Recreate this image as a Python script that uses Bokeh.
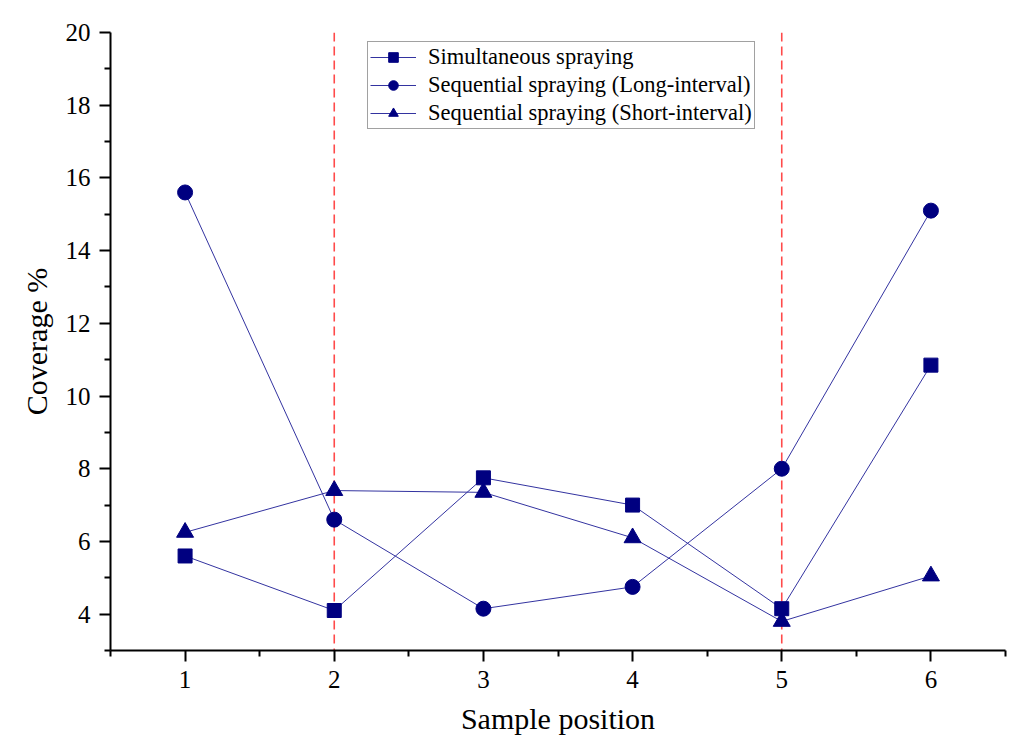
from bokeh.plotting import figure
from bokeh.models import Span, Legend, LegendItem, Range1d, FixedTicker
from bokeh.embed import file_html
from bokeh.resources import INLINE

positions = [1, 2, 3, 4, 5, 6]
simultaneous = [5.6, 4.1, 7.75, 7.0, 4.15, 10.85]
long_interval = [15.6, 6.6, 4.15, 4.75, 8.0, 15.1]
short_interval = [6.25, 7.4, 7.35, 6.1, 3.8, 5.05]
series_names = ["Simultaneous spraying",
                "Sequential spraying (Long-interval)",
                "Sequential spraying (Short-interval)"]
divider_positions = [2, 5]
x_ticks = [1, 2, 3, 4, 5, 6]
y_ticks = [4, 6, 8, 10, 12, 14, 16, 18, 20]

FONT = "Liberation Serif"
MARK = "#000080"
LINE = "#3333a0"

p = figure(width=1018, height=738, output_backend="svg", toolbar_location=None,
           x_range=Range1d(0.5, 6.5), y_range=Range1d(3, 20),
           min_border_left=110, min_border_right=13, min_border_top=32, min_border_bottom=88)
p.outline_line_color = None
p.xgrid.visible = False
p.ygrid.visible = False
p.background_fill_color = "white"

for ax in (p.xaxis[0], p.yaxis[0]):
    ax.axis_line_width = 2
    ax.axis_line_color = "black"
    ax.major_tick_line_width = 2
    ax.minor_tick_line_width = 2
    ax.major_tick_out = 11
    ax.major_tick_in = 0
    ax.minor_tick_out = 6
    ax.minor_tick_in = 0
    ax.major_label_text_font = FONT
    ax.major_label_text_font_size = "25px"
    ax.major_label_text_color = "black"
    ax.axis_label_text_font = FONT
    ax.axis_label_text_font_size = "30px"
    ax.axis_label_text_font_style = "normal"
    ax.axis_label_text_color = "black"

p.xaxis.ticker = FixedTicker(ticks=x_ticks, minor_ticks=[0.5, 1.5, 2.5, 3.5, 4.5, 5.5, 6.5])
p.yaxis.ticker = FixedTicker(ticks=y_ticks, minor_ticks=[3, 5, 7, 9, 11, 13, 15, 17, 19])
p.xaxis.axis_label = "Sample position"
p.yaxis.axis_label = "Coverage %"
p.xaxis.major_label_standoff = 9
p.yaxis.major_label_standoff = 9
p.xaxis.axis_label_standoff = 11
p.yaxis.axis_label_standoff = 10

for xv in divider_positions:
    p.add_layout(Span(location=xv, dimension="height", line_color="#ff4a4a",
                      line_dash="9 5", line_width=1.6, level="underlay"))

l1 = p.line(positions, simultaneous, line_color=LINE, line_width=1)
m1 = p.scatter(positions, simultaneous, marker="square", size=14, fill_color=MARK, line_color=MARK)
l2 = p.line(positions, long_interval, line_color=LINE, line_width=1)
m2 = p.scatter(positions, long_interval, marker="circle", size=15, fill_color=MARK, line_color=MARK)
l3 = p.line(positions, short_interval, line_color=LINE, line_width=1)
m3 = p.scatter(positions, short_interval, marker="triangle", size=17, fill_color=MARK, line_color=MARK)

items = [LegendItem(label=series_names[0], renderers=[l1, m1]),
         LegendItem(label=series_names[1], renderers=[l2, m2]),
         LegendItem(label=series_names[2], renderers=[l3, m3])]
legend = Legend(items=items, location=(257, 521), label_text_font=FONT,
                label_text_font_size="22.5px", label_text_color="black",
                border_line_color="#444444", border_line_width=1,
                background_fill_alpha=1, glyph_width=46, glyph_height=24,
                spacing=2, padding=2, margin=0, label_standoff=12,
                label_height=24)
p.add_layout(legend)

open("out.html", "w").write(file_html(p, INLINE))
